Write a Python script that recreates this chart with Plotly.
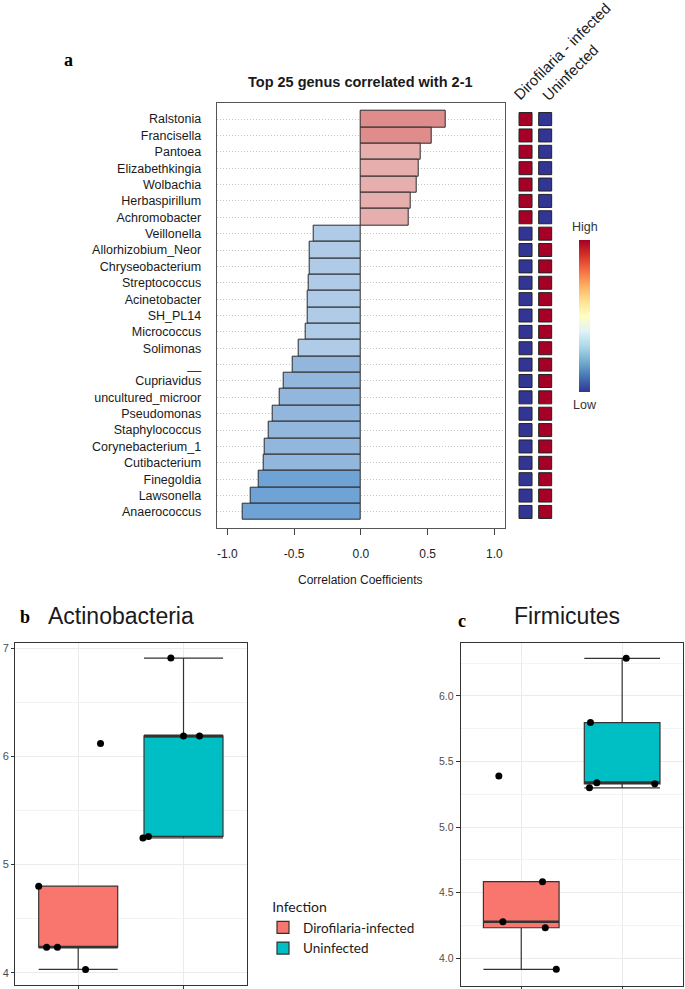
import numpy as np
import plotly.graph_objects as go

W, H = 685, 989

# ---------------- data (panel a) ----------------
genera = ["Ralstonia", "Francisella", "Pantoea", "Elizabethkingia", "Wolbachia",
          "Herbaspirillum", "Achromobacter", "Veillonella", "Allorhizobium_Neor",
          "Chryseobacterium", "Streptococcus", "Acinetobacter", "SH_PL14",
          "Micrococcus", "Solimonas", "__", "Cupriavidus", "uncultured_microor",
          "Pseudomonas", "Staphylococcus", "Corynebacterium_1", "Cutibacterium",
          "Finegoldia", "Lawsonella", "Anaerococcus"]
corr = [0.635, 0.53, 0.445, 0.432, 0.417, 0.372, 0.357, -0.355, -0.383,
        -0.385, -0.388, -0.40, -0.40, -0.415, -0.468, -0.513, -0.578, -0.605,
        -0.658, -0.693, -0.718, -0.725, -0.765, -0.828, -0.888]
heat_columns = ["Dirofilaria - infected", "Uninfected"]
level_infected = [1, 1, 1, 1, 1, 1, 1, 0, 0, 0, 0, 0, 0, 0, 0, 0, 0, 0, 0, 0, 0, 0, 0, 0, 0]
level_uninfected = [0, 0, 0, 0, 0, 0, 0, 1, 1, 1, 1, 1, 1, 1, 1, 1, 1, 1, 1, 1, 1, 1, 1, 1, 1]
x_tickvals = [-1.0, -0.5, 0.0, 0.5, 1.0]
x_ticktext = ["-1.0", "-0.5", "0.0", "0.5", "1.0"]

# ---------------- data (panels b, c) ----------------
groups = ["Dirofilaria-infected", "Uninfected"]
actino_infected = [4.80, 4.235, 4.235, 4.03, 6.12]
actino_infected_jitter = [-0.375, -0.30, -0.197, 0.07, 0.212]
actino_uninfected = [6.91, 6.19, 6.19, 5.246, 5.26]
actino_uninfected_jitter = [-0.12, 0.0, 0.152, -0.385, -0.333]
firm_infected = [5.39, 4.584, 4.279, 4.233, 3.916]
firm_infected_jitter = [-0.222, 0.211, -0.182, 0.238, 0.347]
firm_uninfected = [6.287, 5.797, 5.339, 5.30, 5.33]
firm_uninfected_jitter = [0.04, -0.314, -0.251, -0.324, 0.323]


def px(x):
    return x / W


def py(y):
    return 1 - y / H


def bar_color(v):
    if v >= 0.5:
        return "#DE8C8C"
    if v >= 0:
        return "#E7AEAE"
    if v > -0.5:
        return "#B0CBE8"
    if v > -0.75:
        return "#93B6DD"
    return "#6FA3D6"


rdylbu = ["#313695", "#4575b4", "#74add1", "#abd9e9", "#e0f3f8", "#ffffbf",
          "#fee090", "#fdae61", "#f46d43", "#d73027", "#a50026"]
colorscale = [[i / (len(rdylbu) - 1), c] for i, c in enumerate(rdylbu)]

fig = go.Figure()

# ---- panel a bars ----
fig.add_trace(go.Bar(
    x=corr, y=genera, orientation="h",
    marker=dict(color=[bar_color(v) for v in corr], line=dict(color="#2b2b2b", width=1)),
    xaxis="x", yaxis="y", showlegend=False, hoverinfo="x+y"))

# ---- panel a heat squares ----
fig.add_trace(go.Scatter(
    x=[heat_columns[0]] * len(genera) + [heat_columns[1]] * len(genera),
    y=genera + genera,
    mode="markers",
    marker=dict(symbol="square", size=13,
                color=level_infected + level_uninfected,
                colorscale=colorscale, cmin=0, cmax=1,
                line=dict(color="#222222", width=1),
                showscale=True,
                colorbar=dict(x=px(579.3), xanchor="left", xpad=0, ypad=0,
                              y=py(315.8), yanchor="middle",
                              len=152, lenmode="pixels", thickness=10.5,
                              outlinewidth=0, showticklabels=False, ticks="")),
    xaxis="x2", yaxis="y2", showlegend=False, hoverinfo="x+y"))

# ---- panels b, c ----
fills = {groups[0]: "#F8766D", groups[1]: "#00BFC4"}
panels = [
    ("x3", "y3", [(actino_infected, actino_infected_jitter), (actino_uninfected, actino_uninfected_jitter)], True),
    ("x4", "y4", [(firm_infected, firm_infected_jitter), (firm_uninfected, firm_uninfected_jitter)], False),
]
box_w = 0.75
for xa, ya, series, legend in panels:
    for pos, (g, (vals, jit)) in enumerate(zip(groups, series)):
        fig.add_trace(go.Box(
            y=vals, x=[pos] * len(vals), name=g, showlegend=legend,
            fillcolor=fills[g], line=dict(color="#333333", width=1.2),
            boxpoints="outliers", marker=dict(size=0, opacity=0),
            width=box_w, whiskerwidth=1,
            quartilemethod="inclusive", xaxis=xa, yaxis=ya))
    for pos, (g, (vals, jit)) in enumerate(zip(groups, series)):
        med = float(np.median(vals))
        fig.add_trace(go.Scatter(
            x=[pos - box_w / 2, pos + box_w / 2], y=[med, med], mode="lines",
            line=dict(color="#333333", width=2.6), showlegend=False,
            hoverinfo="skip", xaxis=xa, yaxis=ya))
        fig.add_trace(go.Scatter(
            x=[pos + j for j in jit], y=vals, mode="markers",
            marker=dict(color="black", size=7), showlegend=False,
            xaxis=xa, yaxis=ya))

frame = dict(showline=True, mirror=True, linecolor="#333333", linewidth=1.1, zeroline=False)

fig.update_layout(
    width=W, height=H, margin=dict(l=0, r=0, t=0, b=0),
    paper_bgcolor="white", plot_bgcolor="white",
    font=dict(family="Liberation Sans", color="#1a1a1a"),
    bargap=0, boxmode="overlay",
    xaxis=dict(domain=[px(216.7), px(505)], range=[-1.08, 1.08], anchor="y",
               tickvals=x_tickvals, ticktext=x_ticktext, ticks="outside", ticklen=6,
               tickcolor="#444444", showline=True, mirror=True, linecolor="#555555",
               linewidth=1, showgrid=False, zeroline=False, ticklabelstandoff=8,
               tickfont=dict(size=12, color="#222222")),
    yaxis=dict(domain=[py(528.3), py(102.7)], type="category", categoryorder="array",
               categoryarray=genera, range=[25, -1], anchor="x",
               showgrid=True, gridcolor="#C4C4C4", griddash="1px,2px", gridwidth=1,
               showline=True, mirror=True, linecolor="#555555", linewidth=1,
               ticks="", ticklabelstandoff=12, zeroline=False,
               tickfont=dict(size=12.5, color="#1a1a1a")),
    xaxis2=dict(domain=[px(515.7), px(555)], type="category", categoryorder="array",
                categoryarray=heat_columns, range=[-0.5, 1.5], visible=False, anchor="y2"),
    yaxis2=dict(domain=[py(528.3), py(102.7)], type="category", categoryorder="array",
                categoryarray=genera, range=[25, -1], visible=False, anchor="x2"),
    xaxis3=dict(domain=[px(15), px(246.7)], range=[-0.6, 1.6], anchor="y3",
                tickvals=[0, 1], showticklabels=False, ticks="outside", ticklen=3,
                tickcolor="#333333", showgrid=True, gridcolor="#EBEBEB", gridwidth=1.1, **frame),
    yaxis3=dict(domain=[py(985), py(642.7)], range=[3.886, 7.052], anchor="x3",
                tick0=4, dtick=1, ticks="outside", ticklen=3, tickcolor="#333333",
                tickfont=dict(size=11, color="#4D4D4D"),
                showgrid=True, gridcolor="#EBEBEB", gridwidth=1.1,
                minor=dict(tick0=4, dtick=0.5, showgrid=True, gridcolor="#F3F3F3", gridwidth=1),
                **frame),
    xaxis4=dict(domain=[px(460.7), px(682.7)], range=[-0.6, 1.6], anchor="y4",
                tickvals=[0, 1], showticklabels=False, ticks="outside", ticklen=3,
                tickcolor="#333333", showgrid=True, gridcolor="#EBEBEB", gridwidth=1.1, **frame),
    yaxis4=dict(domain=[py(986), py(642.7)], range=[3.789, 6.406], anchor="x4",
                tick0=4, dtick=0.5, tickformat=".1f", ticks="outside", ticklen=4,
                tickcolor="#333333", tickfont=dict(size=10.5, color="#4D4D4D"),
                showgrid=True, gridcolor="#EBEBEB", gridwidth=1.1,
                minor=dict(tick0=4, dtick=0.25, showgrid=True, gridcolor="#F3F3F3", gridwidth=1),
                **frame),
    legend=dict(x=px(263), y=py(894), xanchor="left", yanchor="top",
                bgcolor="rgba(0,0,0,0)",
                title=dict(text="\u00a0\u00a0Infection", font=dict(family="Lato", size=14, color="#1a1a1a")),
                font=dict(family="Lato", size=13.5, color="#1a1a1a")),
)

ann = []


def add_text(text, x, y, size, family="Liberation Sans", color="#1a1a1a", angle=0,
             xanchor="center"):
    ann.append(dict(text=text, x=px(x), y=py(y), xref="paper", yref="paper",
                    showarrow=False, xanchor=xanchor, yanchor="middle", textangle=angle,
                    font=dict(size=size, family=family, color=color)))


add_text("<b>a</b>", 68, 60, 18, family="Liberation Serif", color="#000000")
add_text("<b>Top 25 genus correlated with 2-1</b>", 360.5, 81.7, 14.5)
add_text("Correlation Coefficients", 360.5, 580, 12)
add_text("Dirofilaria - infected", 562, 52, 15, angle=-45)
add_text("Uninfected", 570, 72, 15, angle=-45)
add_text("High", 585, 226.7, 12.5, color="#333333")
add_text("Low", 585, 405, 12.5, color="#333333")
add_text("<b>b</b>", 25, 617, 18, family="Liberation Serif", color="#000000")
add_text("Actinobacteria", 120.7, 616, 23)
add_text("<b>c</b>", 461.7, 620.7, 18, family="Liberation Serif", color="#000000")
add_text("Firmicutes", 567.3, 616, 23)

fig.update_layout(annotations=ann)

fig.write_html("out.html", config={"displayModeBar": False},
               post_script="document.body.style.margin='0px';")
